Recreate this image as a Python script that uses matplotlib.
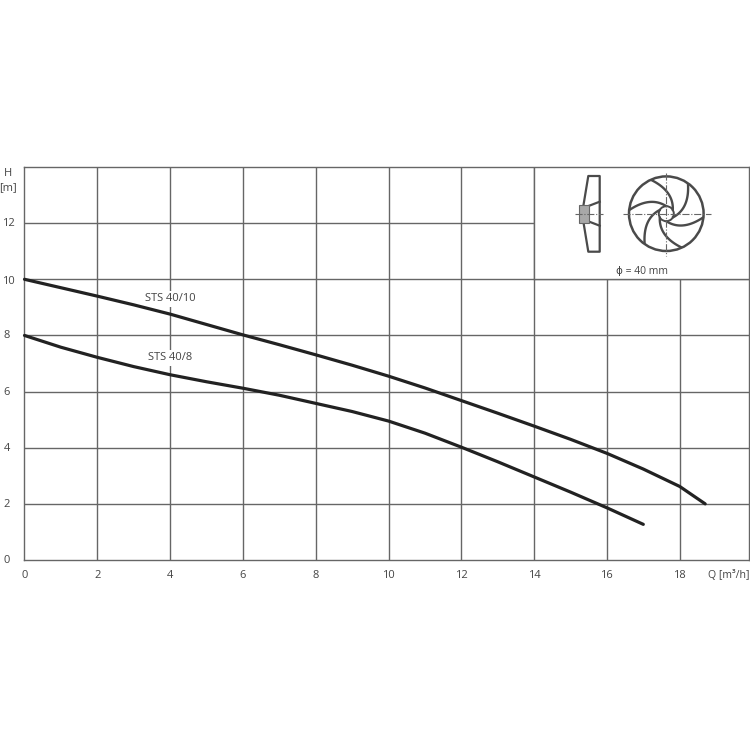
import numpy as np
import matplotlib
matplotlib.use('Agg')
import matplotlib.pyplot as plt
from matplotlib.patches import Circle, Rectangle

plt.rcParams['font.family'] = ['Open Sans', 'DejaVu Sans']

# pump curves
q_10 = [0, 1, 2, 3, 4, 5, 6, 7, 8, 9, 10, 11, 12, 13, 14, 15, 16, 17, 18, 18.7]
h_10 = [10, 9.7, 9.4, 9.09, 8.76, 8.39, 8.02, 7.67, 7.31, 6.94, 6.55, 6.13, 5.68, 5.23, 4.77, 4.3, 3.8, 3.24, 2.62, 2.0]
q_8 = [0, 1, 2, 3, 4, 5, 6, 7, 8, 9, 10, 11, 12, 13, 14, 15, 16, 17]
h_8 = [8, 7.58, 7.22, 6.89, 6.6, 6.35, 6.12, 5.87, 5.58, 5.29, 4.95, 4.52, 4.02, 3.5, 2.96, 2.42, 1.86, 1.27]
x_ticks = [0, 2, 4, 6, 8, 10, 12, 14, 16, 18]
y_ticks = [0, 2, 4, 6, 8, 10, 12]

grid_col = '#666666'
text_col = '#444444'
curve_col = '#222222'
fs = 8

fig = plt.figure(figsize=(7.5, 7.5), dpi=100)
ax = fig.add_axes([24.5 / 750, 1 - 560 / 750, (749 - 24.5) / 750, (560 - 167) / 750])
ax.set_xlim(0, (749 - 24.5) / 36.4)
ax.set_ylim(0, (560 - 167) / 28.07)

for x in x_ticks[1:]:
    ax.axvline(x, color=grid_col, lw=1.0, zorder=1)
for y in y_ticks[1:]:
    ax.axhline(y, color=grid_col, lw=1.0, zorder=1)

# white box for the impeller drawing hides the grid in the top right corner
ax.add_patch(Rectangle((14, 10), 10, 5, fc='white', ec='none', zorder=2))
ax.plot([14, 14], [10, 14], color=grid_col, lw=1.0, zorder=3)
ax.plot([14, 20], [10, 10], color=grid_col, lw=1.0, zorder=3)

# curves sit above the label halos
ax.plot(q_10, h_10, color=curve_col, lw=2.3, zorder=6, solid_capstyle='round', clip_on=False)
ax.plot(q_8, h_8, color=curve_col, lw=2.3, zorder=6, solid_capstyle='round', clip_on=False)

for s in ax.spines.values():
    s.set_color(grid_col)
    s.set_linewidth(1.0)
ax.set_xticks([])
ax.set_yticks([])

# white halo behind labels cuts the grid lines like in the reference
ax.text(4.0, 9.3, 'STS 40/10', ha='center', va='center', fontsize=fs, color=text_col, zorder=5,
        bbox=dict(fc='white', ec='none', pad=1.5))
ax.text(4.0, 7.2, 'STS 40/8', ha='center', va='center', fontsize=fs, color=text_col, zorder=5,
        bbox=dict(fc='white', ec='none', pad=1.5))

# everything else is placed in picture pixels
ov = fig.add_axes([0, 0, 1, 1])
ov.set_xlim(0, 750)
ov.set_ylim(750, 0)
ov.axis('off')

for x in x_ticks:
    ov.text(24.5 + x * 36.4, 575, str(x), ha='center', va='center', fontsize=fs, color=text_col)
for y in y_ticks:
    shift = 2 if y == 10 else 0.5
    ov.text(8 if y > 8 else 7, 560 - y * 28.07 + shift, str(y), ha='center', va='center', fontsize=fs, color=text_col)
ov.text(8, 174, 'H', ha='center', va='center', fontsize=fs, color=text_col)
ov.text(8, 187.5, '[m]', ha='center', va='center', fontsize=fs, color=text_col)
ov.text(728.5, 575, 'Q [m³/h]', ha='center', va='center', fontsize=7.6, color=text_col)
ov.text(642.5, 271, 'ϕ = 40 mm', ha='center', va='center', fontsize=7.5, color=text_col)

# impeller front view
cx, cy = 666.3, 213.7
draw = '#4a4a4a'
ov.add_patch(Circle((cx, cy), 37.3, fc='none', ec=draw, lw=1.8))
ov.add_patch(Circle((cx, cy), 7.5, fc='none', ec=draw, lw=1.4))
t = np.linspace(0, 1, 30)
for k in range(6):
    a = np.radians(60 * k)
    bx = (1 - t) ** 2 * 36 + 2 * t * (1 - t) * 15.8 + t ** 2 * 0.3
    by = (1 - t) ** 2 * 4.3 + 2 * t * (1 - t) * 17.4 + t ** 2 * 7.7
    ov.plot(cx + bx * np.cos(a) - by * np.sin(a), cy + bx * np.sin(a) + by * np.cos(a), color=draw, lw=1.7)
ov.plot([623, 711], [cy, cy], color='#666666', lw=0.8, ls='-.')
ov.plot([cx, cx], [173, 256], color='#666666', lw=0.8, ls='-.')

# impeller side view
ov.plot([583.5, 588.3, 599.7, 599.7, 588.3, 583.5],
        [205, 176, 176, 251.7, 251.7, 222.5], color=draw, lw=1.6)
ov.add_patch(Rectangle((579, 205.3), 10.3, 17.3, fc='#a8a8a8', ec='#666666', lw=0.8, zorder=3))
ov.plot([589.3, 599.7], [205.7, 201.7], color=draw, lw=1.6)
ov.plot([589.3, 599.7], [221.7, 225.7], color=draw, lw=1.6)
ov.plot([574.5, 602.5], [213.7, 213.7], color='#666666', lw=0.8, ls='-.', zorder=4)

fig.savefig('out.png', dpi=100)
